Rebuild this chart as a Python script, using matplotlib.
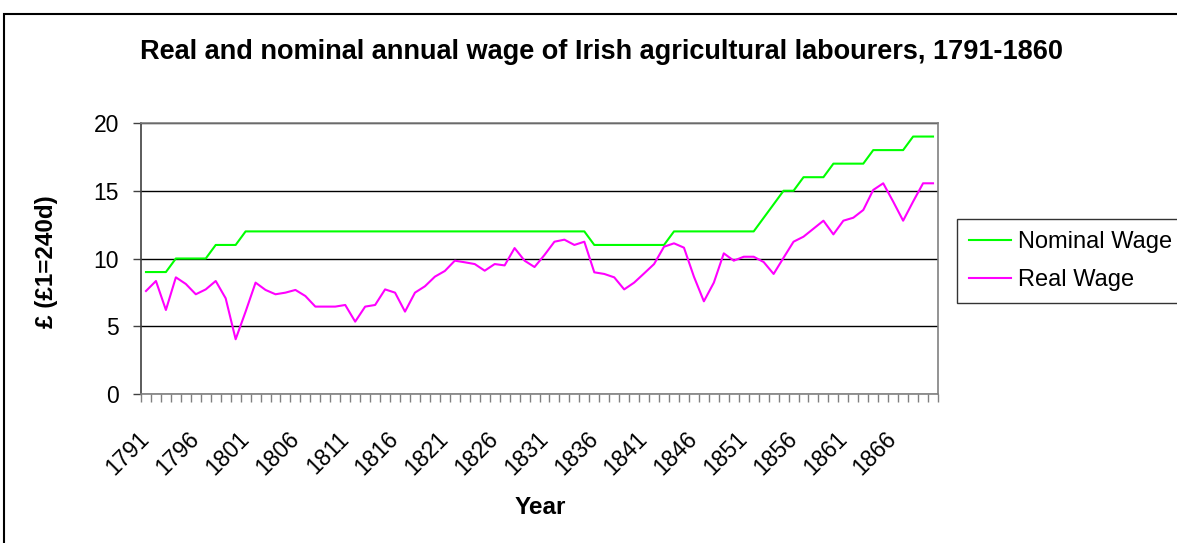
import matplotlib
matplotlib.use('Agg')
import matplotlib.pyplot as plt
import matplotlib.transforms as mtransforms
import numpy as np
from matplotlib.patches import Rectangle

plt.rcParams['font.family'] = ['Liberation Sans', 'DejaVu Sans']

# data
years = list(range(1791, 1871))
nominal_wage = [9, 9, 9, 10, 10, 10, 10, 11, 11, 11,
                12, 12, 12, 12, 12, 12, 12, 12, 12, 12,
                12, 12, 12, 12, 12, 12, 12, 12, 12, 12,
                12, 12, 12, 12, 12, 12, 12, 12, 12, 12,
                12, 12, 12, 12, 12, 11, 11, 11, 11, 11,
                11, 11, 11, 12, 12, 12, 12, 12, 12, 12,
                12, 12, 13, 14, 15, 15, 16, 16, 16, 17,
                17, 17, 17, 18, 18, 18, 18, 19, 19, 19]
real_wage = [7.60, 8.34, 6.20, 8.61, 8.12, 7.36, 7.72, 8.34, 7.06, 4.04,
             6.08, 8.22, 7.68, 7.36, 7.48, 7.68, 7.23, 6.45, 6.45, 6.45,
             6.57, 5.34, 6.45, 6.57, 7.72, 7.48, 6.08, 7.48, 7.95, 8.66,
             9.08, 9.84, 9.72, 9.59, 9.10, 9.59, 9.49, 10.77, 9.84, 9.37,
             10.26, 11.24, 11.39, 11.00, 11.24, 8.98, 8.86, 8.61, 7.72, 8.22,
             8.90, 9.59, 10.87, 11.12, 10.80, 8.66, 6.84, 8.22, 10.38, 9.84,
             10.13, 10.13, 9.74, 8.86, 10.06, 11.24, 11.61, 12.20, 12.79, 11.78,
             12.79, 13.01, 13.58, 15.06, 15.55, 14.20, 12.79, 14.20, 15.55, 15.55]
y_ticks = [0, 5, 10, 15, 20]

W, H = 1177, 543
fig = plt.figure(figsize=(W / 100, H / 100), dpi=100)
ax = fig.add_axes([141 / W, 1 - 394 / H, (938 - 141) / W, (394 - 123) / H])

x = np.arange(len(years))
ax.plot(x, nominal_wage, color='#00FF00', lw=1.5, label='Nominal Wage')
ax.plot(x, real_wage, color='#FF00FF', lw=1.5, label='Real Wage')

ax.set_xlim(-0.5, len(years) - 0.5)
ax.set_ylim(0, 20)
ax.set_yticks(y_ticks)
ax.yaxis.grid(True, color='black', lw=1.0)
ax.set_axisbelow(True)

lab_pos = x[::5]
ax.set_xticks(lab_pos)
ax.set_xticklabels([str(years[i]) for i in lab_pos], rotation=45, ha='right',
                   va='center', rotation_mode='anchor', fontsize=16.5)
shift = mtransforms.ScaledTranslation(-8 / 100, 0, fig.dpi_scale_trans)
for lbl in ax.get_xticklabels():
    lbl.set_transform(lbl.get_transform() + shift)
ax.set_xticks(np.arange(len(years) + 1) - 0.5, minor=True)
ax.tick_params(axis='x', which='major', length=0, pad=30)
ax.tick_params(axis='x', which='minor', length=6, color='#808080', width=1)
ax.tick_params(axis='y', length=6, color='#404040', width=1, labelsize=16.5, pad=10)

for s in ['top', 'right', 'bottom']:
    ax.spines[s].set_color('#808080')
    ax.spines[s].set_linewidth(1.2)
ax.spines['left'].set_color('#404040')
ax.spines['left'].set_linewidth(1.2)

fig.text(602 / W, 1 - 52 / H, 'Real and nominal annual wage of Irish agricultural labourers, 1791-1860',
         ha='center', va='center', fontsize=19.5, fontweight='bold')
fig.text(47 / W, 1 - 262 / H, '£ (£1=240d)', rotation=90, ha='center', va='center',
         fontsize=17.5, fontweight='bold')
fig.text(540 / W, 1 - 508 / H, 'Year', ha='center', va='center', fontsize=17.5, fontweight='bold')

leg = fig.legend(loc='upper left', bbox_to_anchor=(957 / W, 1 - 219 / H), fontsize=17,
                 frameon=True, fancybox=False, edgecolor='black', borderaxespad=0,
                 handlelength=1.8, handletextpad=0.3, labelspacing=0.7, borderpad=0.5)
leg.get_frame().set_linewidth(1.0)

# outer chart border
fig.patches.append(Rectangle((4 / W, -0.1), 1.2, 1 - 14 / H + 0.1, transform=fig.transFigure,
                             fill=False, edgecolor='black', lw=1.5))

fig.savefig('out.png', dpi=100)
